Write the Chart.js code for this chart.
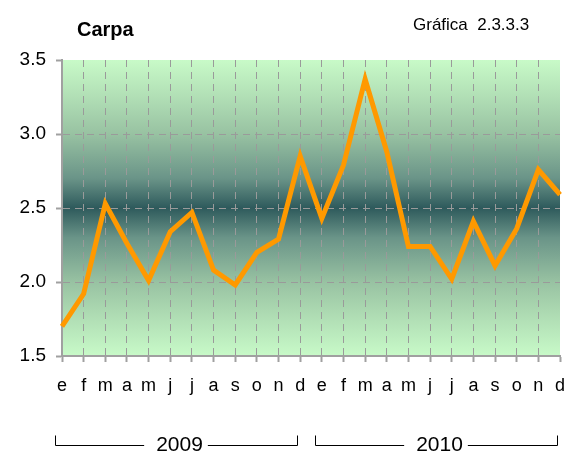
<!DOCTYPE html>
<html>
<head>
<meta charset="utf-8">
<title>Carpa</title>
<script src="https://cdn.jsdelivr.net/npm/chart.js@4.4.1/dist/chart.umd.min.js"></script>
<style>
  html, body { margin: 0; padding: 0; background: #fff; }
  #wrap { position: relative; width: 573px; height: 455px; }
  #wrap canvas { position: absolute; left: 0; top: 0; }
  #title { position: absolute; left: 77px; top: 18px; font: bold 20px 'Liberation Sans', Arial, sans-serif; color: #000; }
  #ref { position: absolute; left: 413px; top: 15px; font: 17px 'Liberation Sans', Arial, sans-serif; color: #000; white-space: pre; }
</style>
</head>
<body>
<div id="wrap">
  <canvas id="chart" width="573" height="455"></canvas>
  <div id="title">Carpa</div>
  <div id="ref">Gráfica  2.3.3.3</div>
</div>
<script>
// month initials, two years
const months = ['e', 'f', 'm', 'a', 'm', 'j', 'j', 'a', 's', 'o', 'n', 'd',
                'e', 'f', 'm', 'a', 'm', 'j', 'j', 'a', 's', 'o', 'n', 'd'];
const years = ['2009', '2010'];
const values2009 = [1.70, 1.92, 2.53, 2.26, 2.01, 2.34, 2.47, 2.08, 1.98, 2.20, 2.29, 2.85];
const values2010 = [2.43, 2.79, 3.37, 2.88, 2.24, 2.24, 2.02, 2.41, 2.11, 2.36, 2.76, 2.59];
const yTicks = [1.5, 2.0, 2.5, 3.0, 3.5];

const FONT = "'Liberation Sans', Arial, sans-serif";
const GRID = '#9a9a9a';
const AXIS = '#a0a0a0';

// green band with dark teal in the middle of the plot
const plotBackground = {
  id: 'plotBackground',
  beforeDraw(chart) {
    const { ctx, chartArea: a } = chart;
    const g = ctx.createLinearGradient(0, a.top, 0, a.bottom);
    g.addColorStop(0, '#c8fac8');
    g.addColorStop(0.12, '#b2e0b6');
    g.addColorStop(0.25, '#98c2a2');
    g.addColorStop(0.4, '#6a9488');
    g.addColorStop(0.5, '#2e5a5c');
    g.addColorStop(0.6, '#6a9488');
    g.addColorStop(0.75, '#98c2a2');
    g.addColorStop(0.88, '#b2e0b6');
    g.addColorStop(1, '#c8fac8');
    ctx.save();
    ctx.fillStyle = g;
    ctx.fillRect(a.left, a.top, a.width, a.height);
    ctx.restore();
  }
};

// year brackets under the month labels
const yearBrackets = {
  id: 'yearBrackets',
  afterDraw(chart) {
    const { ctx, chartArea } = chart;
    const x = chart.scales.x;
    const yLine = Math.round(chartArea.bottom + 89) + 0.5;
    const yTop = yLine - 10;
    ctx.save();
    ctx.strokeStyle = '#000';
    ctx.lineWidth = 1;
    ctx.fillStyle = '#000';
    ctx.font = '21px ' + FONT;
    ctx.textAlign = 'center';
    ctx.textBaseline = 'middle';
    years.forEach((yr, g) => {
      const x0 = Math.round(x.getPixelForValue(g * 12) - 7) + 0.5;
      const x1 = Math.round(x.getPixelForValue(g * 12 + 11) - 3) + 0.5;
      const mid = (x0 + x1) / 2 + 3;
      const half = ctx.measureText(yr).width / 2;
      ctx.beginPath();
      ctx.moveTo(x0, yTop);
      ctx.lineTo(x0, yLine);
      ctx.lineTo(mid - half - 12, yLine);
      ctx.moveTo(mid + half + 5, yLine);
      ctx.lineTo(x1, yLine);
      ctx.lineTo(x1, yTop);
      ctx.stroke();
      ctx.fillText(yr, mid, yLine);
    });
    ctx.restore();
  }
};

new Chart(document.getElementById('chart'), {
  type: 'line',
  data: {
    labels: months,
    datasets: [{
      label: 'Carpa',
      data: values2009.concat(values2010),
      borderColor: '#ff9900',
      borderWidth: 5,
      pointRadius: 0,
      tension: 0,
      fill: false
    }]
  },
  options: {
    responsive: false,
    animation: false,
    layout: {
      padding: { top: 60, right: 13, bottom: 0, left: 0 }
    },
    scales: {
      x: {
        offset: false,
        grid: {
          color: (c) => (c.index === 0 || c.index === months.length - 1) ? 'transparent' : GRID,
          lineWidth: 1,
          tickColor: AXIS,
          tickWidth: 2,
          tickLength: 6
        },
        border: { color: AXIS, width: 2, dash: [7, 5] },
        ticks: {
          color: '#000',
          font: { family: FONT, size: 18 },
          padding: 13,
          autoSkip: false,
          maxRotation: 0
        },
        afterFit(s) {
          s.height = 99;
          s.paddingLeft = 0;
          s.paddingRight = 0;
        }
      },
      y: {
        min: yTicks[0],
        max: yTicks[yTicks.length - 1],
        afterBuildTicks(s) { s.ticks = yTicks.map((v) => ({ value: v })); },
        grid: {
          color: (c) => (c.tick && (c.tick.value === yTicks[0] || c.tick.value === yTicks[yTicks.length - 1])) ? 'transparent' : GRID,
          lineWidth: 1,
          tickColor: AXIS,
          tickWidth: 2,
          tickLength: 6
        },
        border: { color: AXIS, width: 2, dash: [7, 5] },
        ticks: {
          color: '#000',
          font: { family: FONT, size: 19 },
          padding: 10,
          callback: (v) => Number(v).toFixed(1)
        },
        afterFit(s) { s.width = 62; }
      }
    },
    plugins: {
      legend: { display: false },
      tooltip: { enabled: false }
    }
  },
  plugins: [plotBackground, yearBrackets]
});
</script>
</body>
</html>
